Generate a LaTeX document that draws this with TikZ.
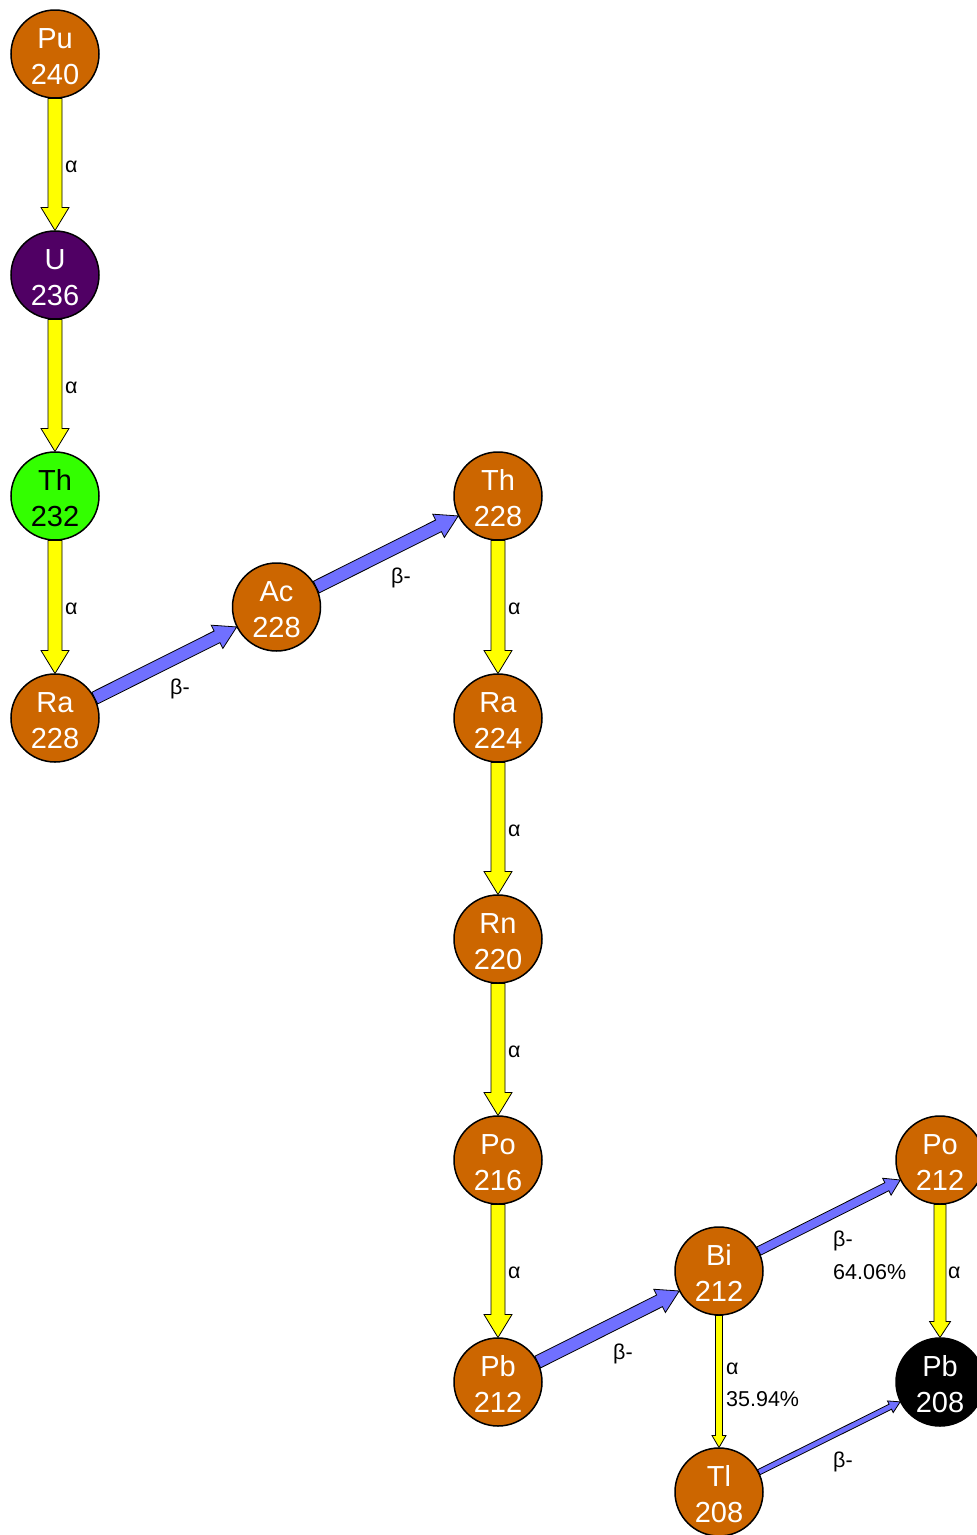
\documentclass[tikz,border=0pt]{standalone}
\usepackage{fontspec}
\setmainfont{Liberation Sans}
\usetikzlibrary{calc}
\definecolor{nuc}{RGB}{204,102,0}
\definecolor{upurp}{RGB}{80,0,100}
\definecolor{thgreen}{RGB}{51,255,0}
\definecolor{betablue}{RGB}{112,112,255}
\definecolor{alphay}{RGB}{255,255,0}
\newcommand\nucl[2]{\raisebox{-12pt}[0pt][0pt]{\begin{tabular}{@{}c@{}}#1\\#2\end{tabular}}}
\newcommand\decayarrow[6]{%
  \coordinate (s) at ($(#1.center)!44.5pt!(#2.center)$);
  \coordinate (t) at ($(#2.center)!44.5pt!(#1.center)$);
  \coordinate (hb) at ($(#2.center)!44.5pt+#5!(#1.center)$);
  \draw[arrowline,fill=#6] ($(s)!#3!90:(t)$) -- ($(hb)!#3!90:(t)$) -- ($(hb)!#4!90:(t)$) -- (t)
    -- ($(hb)!#4!-90:(t)$) -- ($(hb)!#3!-90:(t)$) -- ($(s)!#3!-90:(t)$) -- cycle;
}
\begin{document}
\begin{tikzpicture}[x=1pt,y=1pt,
  nuclide/.style={circle,draw=black,line width=1.5pt,minimum size=88pt,inner sep=0pt,
    fill=nuc,text=white,font=\fontsize{29}{36}\selectfont},
  arrowline/.style={draw=black,line width=0.8pt,line join=miter},
  lab/.style={anchor=west,inner sep=0pt,font=\fontsize{21.5}{30}\selectfont}]
\useasboundingbox (0,0) rectangle (977,-1535);
\node[nuclide] (pu240) at (55,-54) {\nucl{Pu}{240}};
\node[nuclide,fill=upurp] (u236) at (55,-275) {\nucl{U}{236}};
\node[nuclide,fill=thgreen,text=black] (th232) at (55,-496) {\nucl{Th}{232}};
\node[nuclide] (ra228) at (55,-718) {\nucl{Ra}{228}};
\node[nuclide] (ac228) at (276.5,-607) {\nucl{Ac}{228}};
\node[nuclide] (th228) at (498,-496) {\nucl{Th}{228}};
\node[nuclide] (ra224) at (498,-718) {\nucl{Ra}{224}};
\node[nuclide] (rn220) at (498,-939) {\nucl{Rn}{220}};
\node[nuclide] (po216) at (498,-1160) {\nucl{Po}{216}};
\node[nuclide] (pb212) at (498,-1382) {\nucl{Pb}{212}};
\node[nuclide] (bi212) at (719,-1271) {\nucl{Bi}{212}};
\node[nuclide] (po212) at (940,-1160) {\nucl{Po}{212}};
\node[nuclide,fill=black] (pb208) at (940,-1382) {\nucl{Pb}{208}};
\node[nuclide] (tl208) at (719,-1492) {\nucl{Tl}{208}};

\decayarrow{pu240}{u236}{7pt}{14pt}{23pt}{alphay}
\decayarrow{u236}{th232}{7pt}{14pt}{23pt}{alphay}
\decayarrow{th232}{ra228}{7pt}{14pt}{23pt}{alphay}
\decayarrow{ra228}{ac228}{6.5pt}{13pt}{22pt}{betablue}
\decayarrow{ac228}{th228}{6.5pt}{13pt}{22pt}{betablue}
\decayarrow{th228}{ra224}{7pt}{14pt}{23pt}{alphay}
\decayarrow{ra224}{rn220}{7pt}{14pt}{23pt}{alphay}
\decayarrow{rn220}{po216}{7pt}{14pt}{23pt}{alphay}
\decayarrow{po216}{pb212}{7pt}{14pt}{23pt}{alphay}
\decayarrow{pb212}{bi212}{6.5pt}{13pt}{22pt}{betablue}
\decayarrow{bi212}{po212}{4.5pt}{9.5pt}{15pt}{betablue}
\decayarrow{po212}{pb208}{6pt}{10.5pt}{16pt}{alphay}
\decayarrow{bi212}{tl208}{3.5pt}{7pt}{12pt}{alphay}
\decayarrow{tl208}{pb208}{2.8pt}{6.5pt}{11pt}{betablue}

\node[lab] (l1) at (65,-167) {α};
\node[lab] (l2) at (65,-388) {α};
\node[lab] (l3) at (65,-609) {α};
\node[lab] (l4) at (170,-689) {β-};
\node[lab] (l5) at (391,-578) {β-};
\node[lab] (l6) at (508,-609) {α};
\node[lab] (l7) at (508,-831) {α};
\node[lab] (l8) at (508,-1052) {α};
\node[lab] (l9) at (508,-1273) {α};
\node[lab] (l10) at (613,-1354) {β-};
\node[lab] (l11) at (833,-1241) {β-};
\node[lab] (l12) at (833,-1272) {64.06\%};
\node[lab] (l13) at (948,-1273) {α};
\node[lab] (l14) at (726,-1369) {α};
\node[lab] (l15) at (726,-1399) {35.94\%};
\node[lab] (l16) at (833,-1462) {β-};
\end{tikzpicture}
\end{document}
